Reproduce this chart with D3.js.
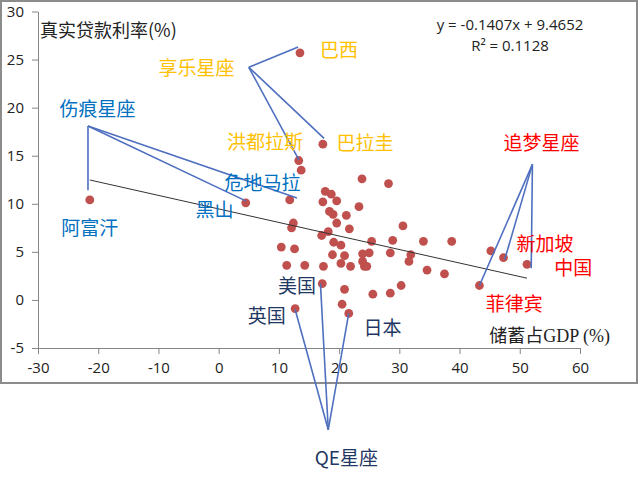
<!DOCTYPE html>
<html>
<head>
<meta charset="utf-8">
<script src="https://cdn.jsdelivr.net/npm/d3@7"></script>
<style>
body{margin:0;background:#fff;}
text{font-family:"Noto Sans CJK SC","Open Sans",sans-serif;}
</style>
</head>
<body>
<div id="chart"></div>
<script>
// savings as % of GDP (x) and real lending rate in % (y), one entry per country
var savings = [-21.4, 4.5, 11.8, 13.3, 13.7, 13.5, 17.3, 23.8, 28.2, 17.7,
               18.7, 17.3, 19.6, 23.3, 18.4, 19.0, 21.2, 19.6, 30.6, 12.4,
               12.1, 21.7, 18.2, 17.1, 19.1, 20.3, 25.4, 28.9, 34.0, 38.7,
               10.4, 12.6, 31.9, 31.6, 28.5, 25.0, 23.9, 18.9, 20.9, 23.9,
               20.3, 24.2, 24.6, 21.9, 17.4, 14.3, 11.3, 34.6, 37.5, 17.2,
               20.9, 30.3, 25.6, 28.5, 20.5, 12.7, 21.6, 43.3, 45.2, 47.3,
               51.2];
var rates = [10.4, 10.1, 10.4, 14.5, 13.5, 25.7, 16.2, 12.6, 12.1, 11.3,
             11.0, 10.2, 10.3, 9.7, 9.2, 8.9, 8.8, 8.0, 7.7, 8.0,
             7.5, 7.4, 7.1, 6.7, 6.0, 5.7, 6.1, 6.2, 6.1, 6.1,
             5.5, 5.3, 4.7, 4.0, 4.9, 4.9, 4.8, 4.7, 4.6, 4.0,
             3.8, 3.5, 3.5, 3.5, 3.5, 3.6, 3.6, 3.1, 2.7, 1.7,
             1.1, 1.5, 0.6, 0.7, -0.45, -0.9, -1.4, 1.5, 5.1, 4.4,
             3.7];

var xTicks = [-30, -20, -10, 0, 10, 20, 30, 40, 50, 60];
var yTicks = [-5, 0, 5, 10, 15, 20, 25, 30];

// linear trend from the spreadsheet
var slope = -0.1407, intercept = 9.4652;
var eqText = ["y = -0.1407x + 9.4652", "R\u00B2 = 0.1128"];

var yTitle = "真实贷款利率(%)";
var xTitle = "储蓄占GDP (%)";

// annotation groups: hub of the leader lines, line ends, labels (all in data units)
var groups = [
  {color: "#FFC000", hub: [5.0, 24.2], ends: [[13.2, 26.3], [17.5, 16.8], [13.3, 14.6]],
   labels: [["享乐星座", -3.7, 24.3], ["巴西", 20.0, 26.1], ["巴拉圭", 24.3, 16.5], ["洪都拉斯", 7.7, 16.6]]},
  {color: "#0070C0", hub: [-21.7, 18.1], ends: [[13.0, 10.6], [4.5, 10.3], [-21.7, 11.4]],
   labels: [["伤痕星座", -20.1, 20.0], ["危地马拉", 7.3, 12.3], ["黑山", -0.7, 9.5], ["阿富汗", -21.4, 7.6]]},
  {color: "#FF0000", hub: [52.1, 14.1], ends: [[43.3, 1.5], [47.5, 4.2], [51.9, 3.3]],
   labels: [["追梦星座", 53.6, 16.5], ["新加坡", 54.2, 6.0], ["中国", 58.9, 3.5], ["菲律宾", 49.1, -0.3]]},
  {color: "#1F3864", hub: [18.2, -13.5], ends: [[16.9, 1.7], [12.7, -1.0], [21.6, -1.4]],
   labels: [["QE星座", 21.2, -16.3], ["美国", 13.0, 1.6], ["英国", 8.0, -1.5], ["日本", 27.2, -2.8]]}
];

var w = 640, h = 479;
var x = d3.scaleLinear().domain([-30, 60]).range([38, 580]);
var y = d3.scaleLinear().domain([-5, 30]).range([348, 11.5]);

var svg = d3.select("#chart").append("svg").attr("width", w).attr("height", h);
svg.append("rect").attr("width", w).attr("height", h).attr("fill", "#fff");

// chart frame
svg.append("rect").attr("x", 1).attr("y", 1).attr("width", 636).attr("height", 382)
   .attr("fill", "none").attr("stroke", "#8c8c8c").attr("stroke-width", 2);

// plain hyphen for negatives, like the spreadsheet
var plain = function(d){ return String(d); };

var xAxis = svg.append("g").attr("transform", "translate(0," + y(-5) + ")")
   .call(d3.axisBottom(x).tickValues(xTicks).tickFormat(plain).tickSize(6).tickSizeOuter(0).tickPadding(8));
var yAxis = svg.append("g").attr("transform", "translate(" + x(-30) + ",0)")
   .call(d3.axisLeft(y).tickValues(yTicks).tickFormat(plain).tickSize(6).tickSizeOuter(0).tickPadding(8));

[xAxis, yAxis].forEach(function(a){
  a.select(".domain").attr("stroke", "#868686");
  a.selectAll(".tick line").attr("stroke", "#868686");
  a.selectAll(".tick text").attr("fill", "#222").style("font-family", "'Open Sans',sans-serif").style("font-size", "15px");
});

// points
svg.append("g").selectAll("circle").data(savings).enter().append("circle")
   .attr("cx", function(d){ return x(d); })
   .attr("cy", function(d, i){ return y(rates[i]); })
   .attr("r", 4.4)
   .attr("fill", "#C0504D");

// trend line across the data range
var xr = d3.extent(savings);
svg.append("line")
   .attr("x1", x(xr[0])).attr("y1", y(slope * xr[0] + intercept))
   .attr("x2", x(xr[1])).attr("y2", y(slope * xr[1] + intercept))
   .attr("stroke", "#333").attr("stroke-width", 1);

svg.selectAll("text.eq").data(eqText).enter().append("text").attr("class", "eq")
   .attr("x", 510).attr("y", function(d, i){ return 24 + i * 21; })
   .attr("text-anchor", "middle").attr("dominant-baseline", "central")
   .style("font-family", "'Open Sans',sans-serif").style("font-size", "15px").attr("fill", "#222")
   .text(function(d){ return d; });

svg.append("text").attr("x", 40).attr("y", 29).attr("dominant-baseline", "central")
   .style("font-size", "18px").attr("fill", "#222").text(yTitle);

svg.append("text").attr("x", 610).attr("y", 336).attr("text-anchor", "end").attr("dominant-baseline", "central")
   .style("font-family", "'Liberation Serif','Noto Sans CJK SC',serif").style("font-size", "18px").attr("fill", "#222")
   .text(xTitle);

// leader lines and labels
groups.forEach(function(g){
  var ann = svg.append("g");
  g.ends.forEach(function(e){
    ann.append("line")
       .attr("x1", x(g.hub[0])).attr("y1", y(g.hub[1]))
       .attr("x2", x(e[0])).attr("y2", y(e[1]))
       .attr("stroke", "#4F6FBF").attr("stroke-width", 1.6);
  });
  g.labels.forEach(function(l){
    ann.append("text")
       .attr("x", x(l[1])).attr("y", y(l[2]))
       .attr("text-anchor", "middle").attr("dominant-baseline", "central")
       .style("font-size", "19px").attr("fill", g.color)
       .text(l[0]);
  });
});
</script>
</body>
</html>
